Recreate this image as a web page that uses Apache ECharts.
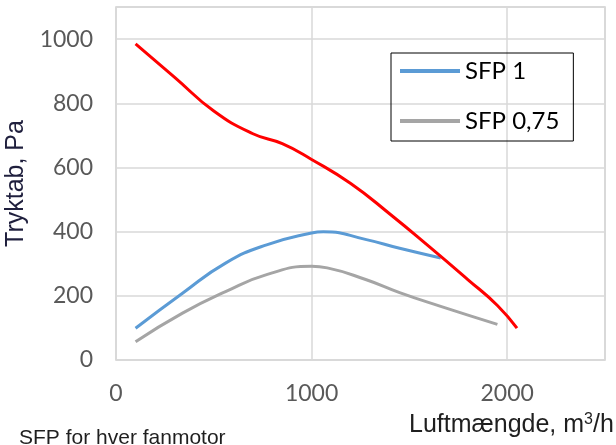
<!DOCTYPE html>
<html>
<head>
<meta charset="utf-8">
<script src="https://cdn.jsdelivr.net/npm/echarts@6/dist/echarts.min.js"></script>
<style>
  html, body { margin: 0; padding: 0; background: #fff; }
  #main { width: 616px; height: 445px; }
</style>
</head>
<body>
<div id="main"></div>
<script>
// pressure drop of the fan (red) and the two SFP curves
let fanCurve = [[100, 985], [300, 881], [500, 776], [700, 705], [850, 674], [1000, 625], [1200, 550],
  [1400, 455], [1600, 354], [1800, 250], [1950, 170], [2050, 99]];
let sfp1 = [[100, 99], [340, 208], [560, 302], [770, 359], [1000, 396], [1060, 400], [1280, 375],
  [1450, 348], [1660, 318]];
let sfp075 = [[100, 57], [340, 146], [560, 213], [770, 266], [1000, 292], [1080, 287], [1280, 250],
  [1450, 210], [1660, 167], [1950, 111]];
let legendNames = ["SFP 1", "SFP 0,75"];

let chart = echarts.init(document.getElementById("main"));

let gridLine = { show: true, lineStyle: { color: "#d9d9d9", width: 1.5 } };
let tickFont = { color: "#595959", fontSize: 23, fontFamily: "Lato" };

chart.setOption({
  animation: false,
  grid: {
    left: 116, top: 7, right: 11, bottom: 85,
    outerBoundsMode: "none",
    show: true, borderColor: "#d0d0d0", borderWidth: 1.5
  },
  legend: {
    data: legendNames,
    orient: "vertical",
    left: 391, top: 53,
    padding: [6, 14, 8, 9],
    borderColor: "#000", borderWidth: 1,
    icon: "rect",
    itemWidth: 60, itemHeight: 4,
    itemGap: 26,
    textStyle: { color: "#000", fontSize: 24, fontFamily: "Lato" }
  },
  xAxis: {
    type: "value",
    min: 0, max: 2500, interval: 1000,
    axisLine: { show: false },
    axisTick: { show: false },
    splitLine: gridLine,
    axisLabel: Object.assign({
      margin: 22, showMaxLabel: false,
      formatter: function (v) { return String(v); }
    }, tickFont)
  },
  yAxis: {
    type: "value",
    min: 0, max: 1100, interval: 200,
    name: "Tryktab, Pa",
    nameLocation: "middle",
    nameGap: 86,
    nameRotate: 90,
    nameTextStyle: { color: "#1f1f3d", fontSize: 25, fontFamily: "Liberation Sans" },
    axisLine: { show: false },
    axisTick: { show: false },
    splitLine: gridLine,
    axisLabel: Object.assign({
      margin: 23,
      formatter: function (v) { return v > 1000 ? "" : String(v); }
    }, tickFont)
  },
  graphic: [
    {
      type: "text", left: 409, top: 412,
      style: {
        text: "Luftmængde, m{sup|3}/h",
        rich: { sup: { fontSize: 16, verticalAlign: "top", padding: [0, 0, 10, 0], fill: "#1f1f1f", fontFamily: "Liberation Sans" } },
        fontSize: 25, fill: "#1f1f1f", fontFamily: "Liberation Sans"
      }
    },
    {
      type: "text", left: 19, top: 428,
      style: { text: "SFP for hver fanmotor", fontSize: 21, fill: "#1f1f1f", fontFamily: "Liberation Sans" }
    }
  ],
  series: [
    {
      name: "Fan", type: "line", data: fanCurve, smooth: 0.5, symbol: "none",
      lineStyle: { color: "#ff0000", width: 3 }, itemStyle: { color: "#ff0000" }, z: 3
    },
    {
      name: "SFP 1", type: "line", data: sfp1, smooth: 0.5, symbol: "none",
      lineStyle: { color: "#5b9bd5", width: 3 }, itemStyle: { color: "#5b9bd5" }, z: 2
    },
    {
      name: "SFP 0,75", type: "line", data: sfp075, smooth: 0.5, symbol: "none",
      lineStyle: { color: "#a5a5a5", width: 3 }, itemStyle: { color: "#a5a5a5" }, z: 2
    }
  ]
});
</script>
</body>
</html>
